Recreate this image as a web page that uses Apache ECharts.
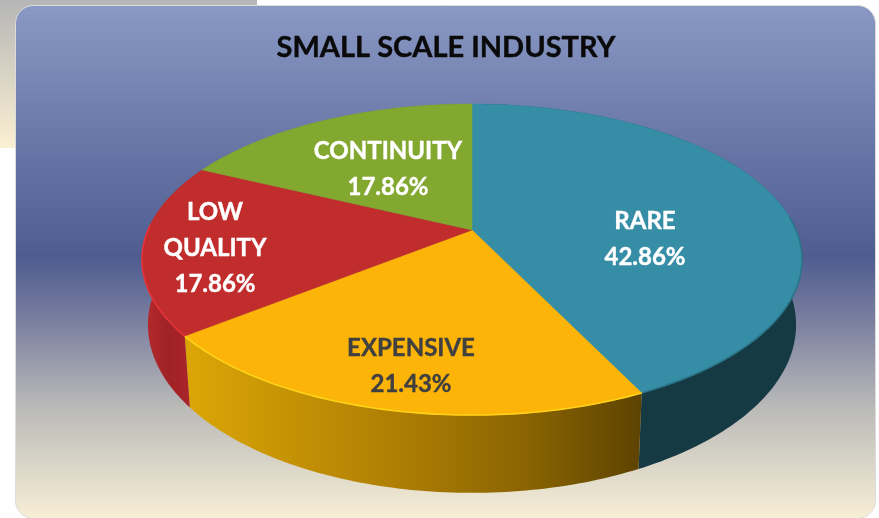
<!DOCTYPE html>
<html>
<head>
<meta charset="utf-8">
<style>html,body{margin:0;padding:0;background:#fff}#c{width:879px;height:518px}</style>
<script src="https://cdn.jsdelivr.net/npm/echarts@6/dist/echarts.min.js"></script>
</head>
<body>
<div id="c"></div>
<script>
var chartTitle = 'SMALL SCALE INDUSTRY';
var categories = ['RARE', 'EXPENSIVE', 'LOW\nQUALITY', 'CONTINUITY'];
var shares = [42.86, 21.43, 17.86, 17.86];

// Styles and layout
var topColors = ['#368ea6', '#fdb408', '#c12d2d', '#82a830'];
var rimColors = ['#2b7488', '#ffd21a', '#e5343a', null];
var rimWindows = [[85, 360], [0, 360], [0, 272], [0, 0]];
var labelColors = ['#ffffff', '#404040', '#ffffff', '#ffffff'];
var labelAnchors = [[645, 239], [411, 366], [215, 248], [388, 169]];
var wallFills = [
  '#153a44',
  {type:'linear', x:185, y:0, x2:640, y2:0, global:true, colorStops:[
    {offset:0,color:'#dca606'},{offset:0.45,color:'#b08004'},{offset:0.75,color:'#8a6402'},{offset:1,color:'#5e4402'}]},
  {type:'linear', x:145, y:0, x2:190, y2:0, global:true, colorStops:[
    {offset:0,color:'#b52a2c'},{offset:0.5,color:'#a02226'},{offset:1,color:'#aa2428'}]},
  '#6a8a28'
];
var apexX = 472, apexY = 230, radX = 324, radY = 149.9, persp = -0.19;
var depth = 63, bottomScale = 0.982;

var total = shares.reduce(function (a, b) { return a + b; }, 0);
var starts = [];
shares.reduce(function (acc, s, i) { starts[i] = acc; return acc + s; }, 0);

function project(deg, isBottom) {
  var t = deg * Math.PI / 180, u = Math.sin(t), v = -Math.cos(t), w = 1 + persp * v;
  if (isBottom) return [apexX + radX * bottomScale * u / w, apexY + (radY * v + depth) / w];
  return [apexX + radX * u / w, apexY + radY * v / w];
}
function arc(from, to, isBottom) {
  var pts = [], n = Math.max(2, Math.ceil(Math.abs(to - from)));
  for (var i = 0; i <= n; i++) pts.push(project(from + (to - from) * i / n, isBottom));
  return pts;
}
function range(i, value) {
  var a = starts[i] / total * 360;
  return [a, a + value / total * 360];
}
function renderWall(params, api) {
  var i = params.dataIndex, r = range(i, api.value(0));
  var pts = arc(r[0], r[1], false).concat(arc(r[1], r[0], true));
  return {type:'polygon', shape:{points:pts}, style:{fill:wallFills[i]}};
}
function renderTop(params, api) {
  var i = params.dataIndex, r = range(i, api.value(0));
  var edge = arc(r[0], r[1], false);
  var kids = [{type:'polygon', shape:{points:[[apexX, apexY]].concat(edge)},
    style:{fill:topColors[i], stroke:topColors[i], lineWidth:0.5}}];
  var from = Math.max(r[0], rimWindows[i][0]), to = Math.min(r[1], rimWindows[i][1]);
  if (rimColors[i] && to > from) {
    kids.push({type:'polyline', shape:{points:arc(from, to, false)},
      style:{fill:'none', stroke:rimColors[i], lineWidth:1.6}});
  }
  kids.push({type:'text', x:labelAnchors[i][0], y:labelAnchors[i][1], style:{
    text:categories[i] + '\n' + api.value(0).toFixed(2) + '%',
    font:'bold 24px Lato, sans-serif', lineHeight:36, align:'center', verticalAlign:'middle',
    fill:labelColors[i], stroke:labelColors[i], lineWidth:0.4}});
  return {type:'group', children:kids};
}
var seriesData = shares.map(function (s, i) { return {name:categories[i].replace('\n', ' '), value:[s]}; });

var chart = echarts.init(document.getElementById('c'), null, {renderer:'canvas'});
chart.setOption({
  animation:false,
  backgroundColor:'#ffffff',
  title:{text:chartTitle, left:441, top:28, textAlign:'center',
    textStyle:{fontFamily:'Lato, sans-serif', fontWeight:'bold', fontSize:29, color:'#0a0a0a',
      textBorderColor:'#0a0a0a', textBorderWidth:0.4}},
  graphic:[
    {type:'rect', z:0, shape:{x:0, y:0, width:257, height:148}, style:{fill:
      {type:'linear', x:0, y:0, x2:0, y2:1, colorStops:[{offset:0,color:'#b6b6b6'},{offset:1,color:'#fbf0d3'}]}}},
    {type:'rect', z:1, shape:{x:15.5, y:5.5, width:860, height:513, r:18},
     style:{stroke:'#dcdcdc', lineWidth:1, fill:
      {type:'linear', x:0, y:0, x2:0, y2:1, colorStops:[
        {offset:0,color:'#8a98c4'},{offset:0.49,color:'#4e5c90'},
        {offset:0.62,color:'#7c81a0'},{offset:0.78,color:'#b9b9b8'},{offset:1,color:'#f8efd6'}]}}}
  ],
  series:[
    {type:'custom', coordinateSystem:'none', silent:true, renderItem:renderWall, data:seriesData},
    {type:'custom', coordinateSystem:'none', silent:true, renderItem:renderTop, data:seriesData}
  ]
});
</script>
</body>
</html>
